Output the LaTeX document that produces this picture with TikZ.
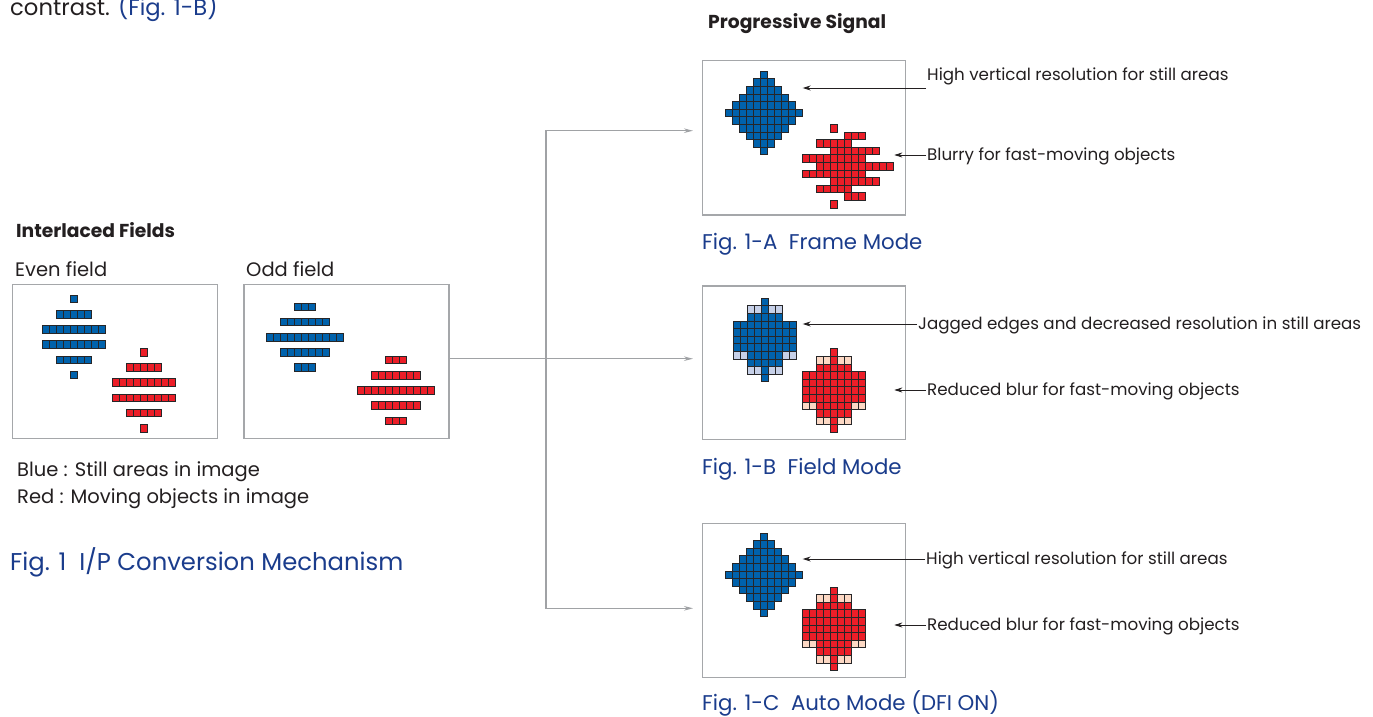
\documentclass[tikz,border=0pt]{standalone}
\usepackage{fontspec}
\setmainfont{Poppins}
\usetikzlibrary{arrows.meta}

\definecolor{pixblue}{RGB}{0,98,172}
\definecolor{pixblueL}{RGB}{198,208,232}
\definecolor{pixred}{RGB}{236,30,40}
\definecolor{pixredL}{RGB}{252,216,196}
\definecolor{pixedge}{RGB}{38,38,40}
\definecolor{panelgrey}{RGB}{165,167,170}
\definecolor{linkgrey}{RGB}{160,162,165}
\definecolor{ink}{RGB}{35,31,32}
\definecolor{capblue}{RGB}{26,60,140}

% one run of cells: row, first column, last column, fill colour
\newcommand\pixrow[4]{%
  \foreach \pc in {#2,...,#3}{\path[pixcell,fill=#4] (\pc*7,#1*7.6) rectangle ++(7,7.6);}}
% full 11-row diamond
\newcommand\fulldiamond[1]{%
  \foreach \r in {0,...,10}{%
    \pgfmathtruncatemacro\pa{abs(\r-5)}\pgfmathtruncatemacro\pb{10-\pa}%
    \pixrow{\r}{\pa}{\pb}{#1}}}
% only the rows of one field: #1 = first row (0 or 1)
\newcommand\fielddiamond[2]{%
  \pgfmathtruncatemacro\ps{#1+2}%
  \foreach \r in {#1,\ps,...,10}{%
    \pgfmathtruncatemacro\pa{abs(\r-5)}\pgfmathtruncatemacro\pb{10-\pa}%
    \pixrow{\r}{\pa}{\pb}{#2}}}
% field-mode diamond with interpolated (light) cells: dark, light
\newcommand\interpdiamond[2]{%
  \pixrow{0}{5}{5}{#1}%
  \pixrow{1}{3}{4}{#2}\pixrow{1}{5}{5}{#1}\pixrow{1}{6}{7}{#2}%
  \pixrow{2}{3}{7}{#1}%
  \foreach \r in {3,...,6}{\pixrow{\r}{1}{9}{#1}}%
  \pixrow{7}{1}{2}{#2}\pixrow{7}{3}{7}{#1}\pixrow{7}{8}{9}{#2}%
  \pixrow{8}{3}{7}{#1}%
  \pixrow{9}{3}{4}{#2}\pixrow{9}{5}{5}{#1}\pixrow{9}{6}{7}{#2}%
  \pixrow{10}{5}{5}{#1}}

\begin{document}
\begin{tikzpicture}[x=1pt,y=-1pt,
  pixcell/.style={draw=pixedge,line width=0.75pt},
  panel/.style={draw=panelgrey,line width=1.4pt,inner sep=0pt,anchor=north west},
  note/.style={font=\fontsize{16.7}{19}\selectfont,text=ink,anchor=west,inner sep=1pt,
    text height=11.6pt,text depth=0pt},
  body/.style={font=\fontsize{19.5}{22}\selectfont,text=ink,anchor=west,inner sep=0pt,
    text height=13.6pt,text depth=0pt},
  head/.style={font=\bfseries\fontsize{18.7}{21}\selectfont,text=ink,anchor=west,inner sep=0pt,
    text height=13.1pt,text depth=0pt},
  figcap/.style={font=\fontsize{21.3}{24}\selectfont,text=capblue,anchor=west,inner sep=0pt,
    text height=14.9pt,text depth=0pt},
  pointer/.style={draw=ink,line width=0.8pt,-{Stealth[length=8pt,width=5pt]}},
  link/.style={draw=linkgrey,line width=1.2pt,-{Stealth[length=9pt,width=4.5pt]}}]

\useasboundingbox[fill=white] (0,0) rectangle (1373,717);

% running text above
\node[anchor=base west,inner sep=0pt,font=\fontsize{22.7}{26}\selectfont,text=ink] (intro) at (10,16)
  {contrast. \textcolor{capblue}{(Fig. 1-B)}};

% ---------- interlaced fields ----------
\node[head] (ifhead) at (16,230.5) {Interlaced Fields};
\node[body] (evenlbl) at (15,269.5) {Even field};
\node[body] (oddlbl) at (246,269.5) {Odd field};

\node[panel,minimum width=205pt,minimum height=154pt] (even) at (11.7,284) {};
\node[panel,minimum width=205pt,minimum height=154pt] (odd) at (243.3,284) {};

\begin{scope}[shift={(35.3,295.2)}] \fielddiamond{0}{pixblue} \end{scope}
\begin{scope}[shift={(105.3,348.4)}] \fielddiamond{0}{pixred} \end{scope}
\begin{scope}[shift={(266.7,295.3)}] \fielddiamond{1}{pixblue} \end{scope}
\begin{scope}[shift={(357.7,348.5)}] \fielddiamond{1}{pixred} \end{scope}

\node[body] (legB) at (17,470) {Blue : Still areas in image};
\node[body] (legR) at (17,497) {Red : Moving objects in image};
\node[figcap,font=\fontsize{24.3}{28}\selectfont,text height=17pt] (fig1) at (10,562)
  {Fig. 1\ \ I/P Conversion Mechanism};

% ---------- progressive signal ----------
\node[head] (pshead) at (708,22) {Progressive Signal};

\node[panel,minimum width=203.3pt,minimum height=154.3pt] (frame) at (701.7,60) {};
\node[panel,minimum width=203.3pt,minimum height=153.4pt] (field) at (701.7,285.3) {};
\node[panel,minimum width=203.3pt,minimum height=154pt] (auto) at (701.7,522.7) {};

% frame mode: both fields woven together
\begin{scope}[shift={(725.7,71.2)}] \fulldiamond{pixblue} \end{scope}
\begin{scope}[shift={(795.7,124.4)}] \fielddiamond{0}{pixred} \end{scope}
\begin{scope}[shift={(816.7,124.4)}] \fielddiamond{1}{pixred} \end{scope}

% field mode: one field, missing lines interpolated
\begin{scope}[shift={(726.5,298.2)}] \interpdiamond{pixblue}{pixblueL} \end{scope}
\begin{scope}[shift={(795.7,348.7)}] \interpdiamond{pixred}{pixredL} \end{scope}

% auto mode: still areas woven, moving objects interpolated
\begin{scope}[shift={(725.7,532.9)}] \fulldiamond{pixblue} \end{scope}
\begin{scope}[shift={(795.7,586.9)}] \interpdiamond{pixred}{pixredL} \end{scope}

\node[figcap] (capA) at (702,242) {Fig. 1-A\ \ Frame Mode};
\node[figcap] (capB) at (702,467) {Fig. 1-B\ \ Field Mode};
\node[figcap] (capC) at (702,703.5) {Fig. 1-C\ \ Auto Mode (DFI ON)};

% annotations
\node[note] (nA1) at (926,75) {High vertical resolution for still areas};
\coordinate (tA1) at (802.7,88);
\draw[pointer] (nA1.west |- tA1) -- (tA1);
\node[note] (nA2) at (926,155) {Blurry for fast-moving objects};
\coordinate (tA2) at (894.3,155);
\draw[pointer] (nA2.west) -- (nA2.west -| tA2);

\node[note] (nB1) at (917,324) {Jagged edges and decreased resolution in still areas};
\coordinate (tB1) at (802.7,324);
\draw[pointer] (nB1.west) -- (nB1.west -| tB1);
\node[note] (nB2) at (926,390) {Reduced blur for fast-moving objects};
\coordinate (tB2) at (894.3,390);
\draw[pointer] (nB2.west) -- (nB2.west -| tB2);

\node[note] (nC1) at (925,559) {High vertical resolution for still areas};
\coordinate (tC1) at (802.7,559);
\draw[pointer] (nC1.west) -- (nC1.west -| tC1);
\node[note] (nC2) at (926,625) {Reduced blur for fast-moving objects};
\coordinate (tC2) at (894.3,625);
\draw[pointer] (nC2.west) -- (nC2.west -| tC2);

% connectors from the interlaced fields to the three modes
\coordinate (split) at (546,358.7);
\coordinate (inA) at (693,130.7);
\coordinate (inB) at (693,358.7);
\coordinate (inC) at (693,608.3);
\draw[link] (odd.east |- split) -- (inB);
\draw[link] (split) |- (inA);
\draw[link] (split) |- (inC);

\end{tikzpicture}
\end{document}
